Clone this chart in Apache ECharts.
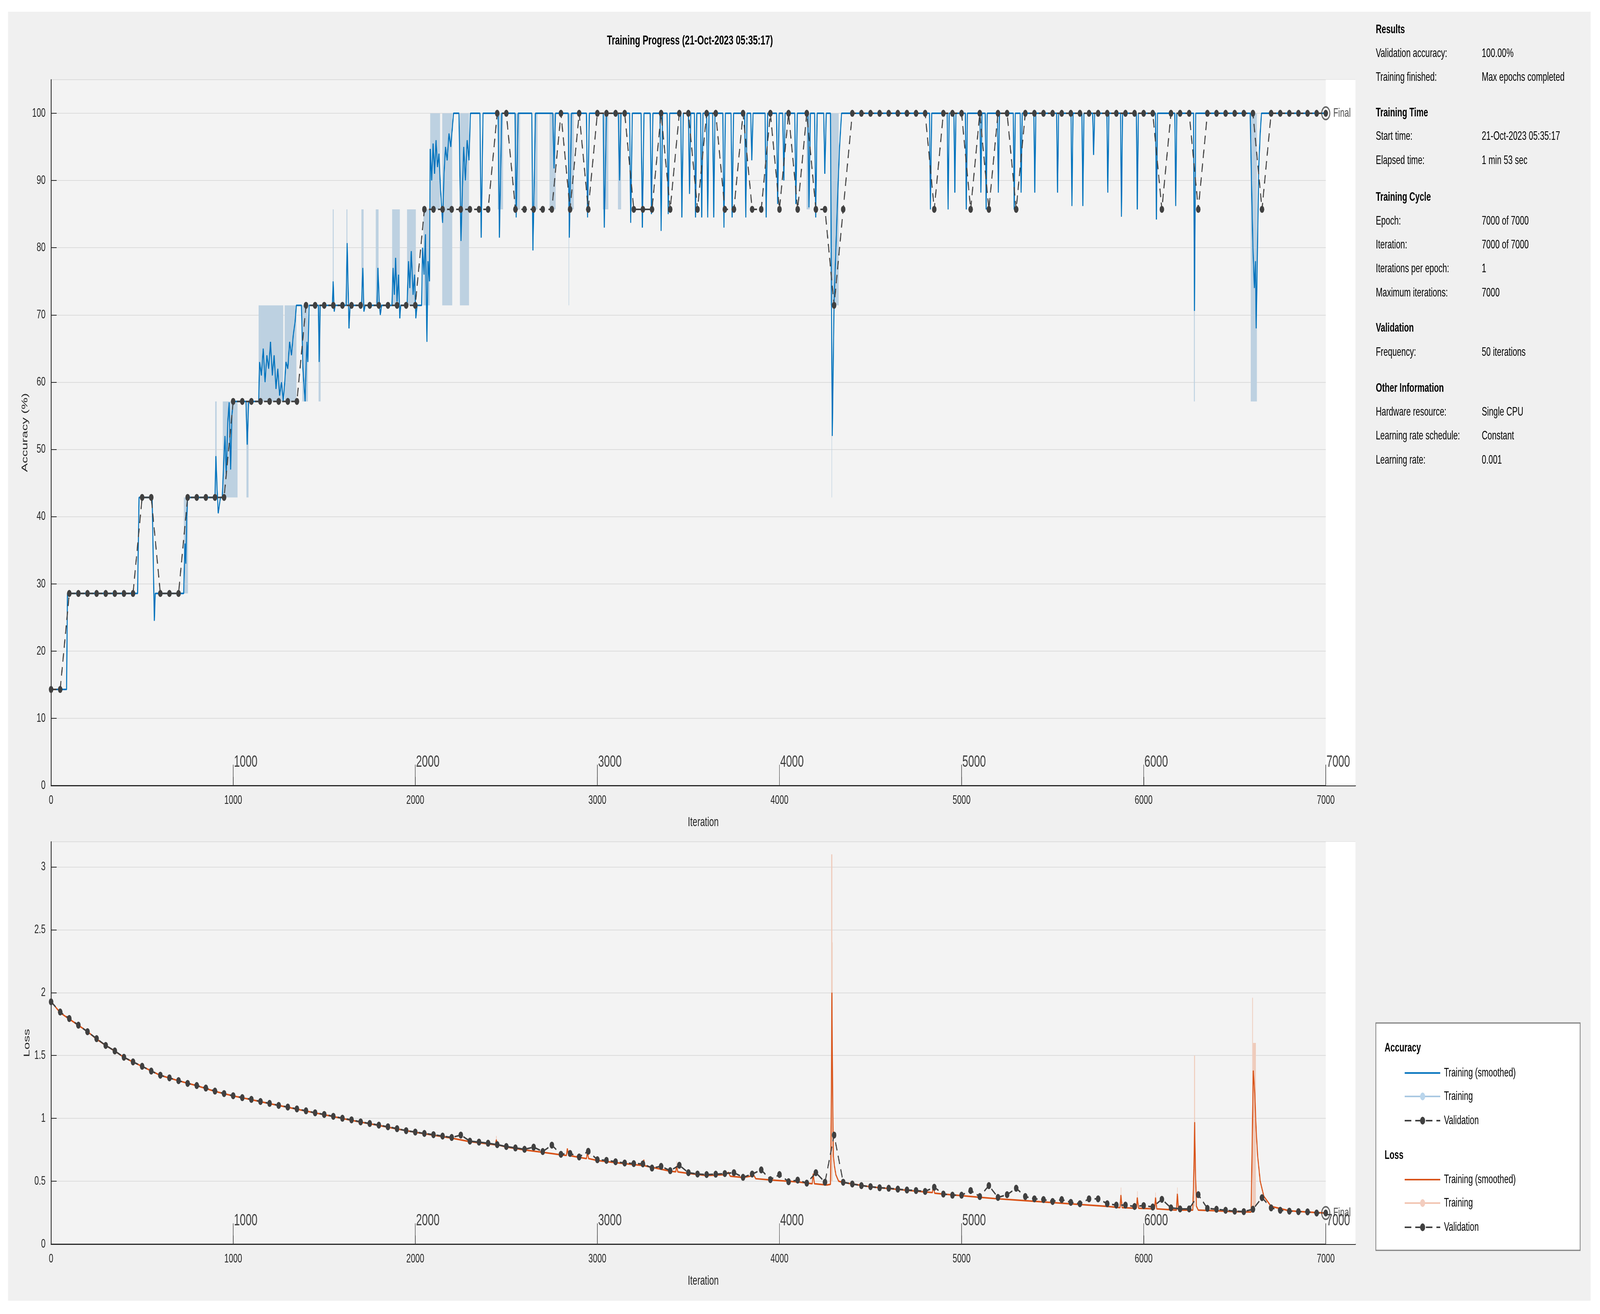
<!DOCTYPE html>
<html><head><meta charset="utf-8">
<script src="https://cdn.jsdelivr.net/npm/echarts@6/dist/echarts.min.js"></script>
<style>html,body{margin:0;padding:0;background:#fff;overflow:hidden}#c{width:6359px;height:3364px;transform-origin:0 0}</style>
</head><body><div id="c"></div>
<script>
const FONT = '"Liberation Sans", Arial, Helvetica, sans-serif';
const valFreq = 50;
const valAcc = [14.29,14.29,28.57,28.57,28.57,28.57,28.57,28.57,28.57,28.57,42.86,42.86,28.57,28.57,28.57,42.86,42.86,42.86,42.86,42.86,
57.14,57.14,57.14,57.14,57.14,57.14,57.14,57.14,71.43,71.43,71.43,71.43,71.43,71.43,71.43,71.43,71.43,71.43,71.43,71.43,71.43,
85.71,85.71,85.71,85.71,85.71,85.71,85.71,85.71,
100,100,85.71,85.71,85.71,85.71,85.71,100,85.71,100,85.71,100,100,100,100,85.71,85.71,85.71,100,85.71,100,100,85.71,100,100,85.71,85.71,100,85.71,85.71,100,85.71,100,85.71,100,85.71,85.71,71.43,85.71,
100,100,100,100,100,100,100,100,100,85.71,100,100,100,85.71,100,85.71,100,100,85.71,
100,100,100,100,100,100,100,100,100,100,100,100,100,100,100,85.71,100,100,100,85.71,100,100,100,100,100,100,85.71,100,100,100,100,100,100,100];
const valLoss = [1.927,1.846,1.794,1.741,1.689,1.634,1.580,1.536,1.486,1.449,1.414,1.376,1.343,1.322,1.300,1.278,1.261,1.241,1.217,1.197,
1.180,1.165,1.151,1.134,1.119,1.103,1.090,1.075,1.060,1.044,1.031,1.016,1.001,0.988,0.972,0.959,0.946,0.933,0.918,0.902,
0.891,0.880,0.870,0.859,0.848,0.867,0.819,0.811,0.802,0.791,0.776,0.765,0.754,0.771,0.736,0.787,0.714,0.721,0.693,0.738,
0.671,0.666,0.655,0.645,0.640,0.638,0.605,0.618,0.584,0.627,0.568,0.557,0.553,0.556,
0.561,0.568,0.531,0.557,0.590,0.513,0.553,0.496,0.509,0.485,0.568,0.492,0.867,0.492,0.478,0.465,0.457,0.448,0.444,0.437,
0.430,0.426,0.419,0.452,0.398,0.389,0.389,0.426,0.378,0.465,0.371,0.393,0.444,0.378,0.360,0.354,0.339,0.354,0.332,0.321,
0.360,0.360,0.321,0.310,0.310,0.299,0.306,0.295,0.356,0.288,0.280,0.280,0.393,0.284,0.277,0.269,0.262,0.258,0.277,0.369,
0.288,0.269,0.262,0.258,0.256,0.247,0.247];
const accSmooth = [[0,14.29],[85,14.29],[90,28.57],[475,28.57],[483,42.86],[555,42.86],[567,24.5],[572,28.57],[728,28.57],[735,36],[740,33],[745,40],[750,42.86],[900,42.86],[905,49],[912,44],[918,40.5],[930,42.86],[940,42.86],[948,48],[955,52],[962,46],[970,54],[978,57],[986,47],[993,55],[1000,57.14],[1070,57.14],[1077,50.7],[1085,57.14],[1140,57.14],[1145,63],[1155,61],[1165,65],[1175,60],[1185,64],[1195,62],[1205,66],[1215,61],[1225,64],[1235,59],[1245,62],[1255,58],[1265,60],[1275,57.2],[1283,60],[1290,63],[1300,62],[1310,66],[1320,64],[1330,67],[1340,69],[1347,71.43],[1375,71.43],[1383,62],[1395,57.14],[1400,62],[1405,66],[1410,63],[1417,71.43],[1468,71.43],[1472,63],[1478,71.43],[1545,71.43],[1549,75],[1555,70.5],[1560,71.43],[1620,71.43],[1626,80.7],[1632,73],[1636,68],[1642,71.43],[1705,71.43],[1712,77],[1718,70.5],[1725,71.43],[1790,71.43],[1795,77],[1802,72],[1808,70],[1815,71.43],[1872,71.43],[1878,77],[1885,73],[1892,78.5],[1900,72],[1908,76],[1915,69.5],[1920,71.43],[1955,71.43],[1963,78],[1970,74],[1978,79.5],[1988,73],[1996,76],[2003,69.5],[2010,71.43],[2035,71.43],[2040,80],[2048,76],[2056,82],[2064,66],[2070,78],[2078,75],[2082,94.7],[2090,90],[2098,95.5],[2106,91],[2114,96],[2122,92],[2130,94],[2138,89],[2150,83.7],[2158,91],[2166,95],[2175,93],[2185,97],[2195,95],[2210,100],[2240,100],[2251,81],[2258,88],[2266,95],[2275,90],[2285,96],[2295,93],[2303,100],
[2355,100],[2362,81.5],[2372,100],[2455,100],[2462,81.5],[2475,100],[2548,100],[2554,84.5],[2565,100],[2640,100],[2646,79.6],[2660,100],[2755,100],[2762,91.8],[2770,100],[2840,100],[2846,81.5],[2858,100],[2940,100],[2946,84.5],[2956,100],[3032,100],[3038,83],[3050,100],[3115,100],[3122,90],[3130,100],[3177,100],[3183,83.7],[3192,100],[3240,100],[3247,83],[3256,100],[3290,100],[3297,85],[3305,100],[3344,100],[3350,82.5],[3358,100],[3383,100],[3389,85],[3397,100],[3458,100],[3464,84.5],[3472,100],[3500,100],[3506,88],[3513,100],[3533,100],[3539,84.5],[3546,100],[3567,100],[3573,84.5],[3580,100],[3600,100],[3606,84.5],[3613,100],[3633,100],[3639,84.5],[3646,100],[3689,100],[3695,83],[3703,100],[3734,100],[3740,84.5],[3748,100],[3809,100],[3815,84.5],[3822,100],[3842,100],[3848,93],[3855,100],[3921,100],[3927,84.5],[3935,100],[3984,100],[3990,86.5],[3998,100],[4018,100],[4024,90],[4031,100],[4084,100],[4090,86.5],[4098,100],[4156,100],[4162,86],[4170,100],[4193,100],[4199,84.5],[4207,100],[4243,100],[4249,91],[4257,100],[4280,100],[4285,75],[4290,52],[4295,62],[4300,72],[4310,80],[4320,88],[4330,95],[4341,100],
[4824,100],[4829,85.7],[4836,100],[4921,100],[4926,85.7],[4932,100],[4958,100],[4963,88.2],[4969,100],[5021,100],[5026,85.7],[5032,100],[5101,100],[5106,88.2],[5112,100],[5130,100],[5135,85.7],[5141,100],[5197,100],[5202,88.2],[5208,100],[5284,100],[5289,85.7],[5295,100],[5322,100],[5327,88.2],[5333,100],[5397,100],[5402,88.2],[5408,100],[5522,100],[5527,88.2],[5533,100],[5601,100],[5606,86.2],[5612,100],[5661,100],[5666,86.2],[5672,100],[5720,100],[5725,93.8],[5731,100],[5798,100],[5803,88.2],[5809,100],[5873,100],[5878,84.6],[5884,100],[5960,100],[5965,85.7],[5971,100],[6065,100],[6070,84.2],[6076,100],[6171,100],[6176,86.2],[6182,100],[6274,100],[6279,70.6],[6286,100],[6585,100],[6592,90],[6600,80],[6608,74],[6614,78],[6618,68],[6625,80],[6632,92],[6640,97],[6647,100],[7000,100]];
const accRawBands = [[729,752,28.57,42.86],[901,909,42.86,57.14],[943,1024,42.86,57.14],[1073,1084,42.86,57.14],[1140,1275,57.14,71.43],[1283,1347,57.14,71.43],[1380,1410,57.14,71.43],[1469,1480,57.14,71.43],[1547,1552,71.43,85.71],[1622,1627,71.43,85.71],[1704,1716,71.43,85.71],[1783,1798,71.43,85.71],[1873,1915,71.43,85.71],[1955,2003,71.43,85.71],[2045,2080,71.43,85.71],[2082,2136,85.71,100],[2148,2203,71.43,100],[2245,2295,71.43,100],[2453,2482,85.71,100],[2545,2575,85.71,100],[2654,2671,85.71,100],[2737,2771,85.71,100],[2838,2871,85.71,100],[2842,2845,71.43,85.71],[3030,3060,85.71,100],[3113,3130,85.71,100],[4149,4166,85.71,100],[4280,4325,71.43,100],[4286,4289,42.86,71.43],[6276,6281,57.14,85.71],[6588,6622,57.14,100]];
const lossSmooth = [[0,1.93],[50,1.84],[100,1.79],[150,1.74],[200,1.69],[250,1.63],[300,1.58],[350,1.535],[400,1.485],[450,1.448],[500,1.413],[600,1.342],[700,1.299],[800,1.26],[900,1.215],[1000,1.178],[1100,1.149],[1200,1.117],[1300,1.088],[1400,1.058],[1500,1.029],[1600,0.999],[1700,0.97],[1800,0.944],[1900,0.916],[2000,0.889],[2100,0.866],[2200,0.843],[2300,0.815],[2400,0.797],[2440,0.79],[2445,0.83],[2452,0.79],[2500,0.772],[2600,0.749],[2700,0.73],[2800,0.71],[2830,0.705],[2835,0.76],[2842,0.705],[2900,0.69],[2940,0.68],[2945,0.73],[2952,0.68],[3000,0.665],[3100,0.648],[3200,0.632],[3250,0.625],[3255,0.67],[3262,0.622],[3400,0.58],[3430,0.575],[3435,0.62],[3442,0.574],[3500,0.562],[3600,0.545],[3700,0.552],[3720,0.57],[3730,0.54],[3800,0.53],[3860,0.545],[3870,0.52],[3950,0.51],[4000,0.505],[4100,0.495],[4180,0.48],[4185,0.56],[4192,0.48],[4260,0.47],[4280,0.475],[4284,1.0],[4288,2.0],[4292,1.2],[4296,0.7],[4302,0.62],[4310,0.55],[4325,0.5],[4350,0.49],[4500,0.455],[4700,0.428],[4800,0.415],[4840,0.41],[4845,0.47],[4852,0.405],[4900,0.398],[5000,0.385],[5100,0.372],[5200,0.36],[5300,0.35],[5400,0.34],[5500,0.33],[5600,0.32],[5700,0.31],[5800,0.3],[5870,0.29],[5875,0.39],[5882,0.29],[5960,0.285],[5965,0.37],[5972,0.285],[6060,0.28],[6065,0.37],[6072,0.28],[6180,0.27],[6185,0.4],[6192,0.27],[6270,0.27],[6276,0.6],[6280,0.97],[6284,0.6],[6290,0.3],[6300,0.27],[6400,0.265],[6500,0.258],[6590,0.255],[6596,0.8],[6602,1.38],[6610,1.2],[6618,0.9],[6626,0.7],[6640,0.5],[6660,0.38],[6700,0.3],[6800,0.265],[6900,0.255],[7000,0.247]];
const lossRawBands = [[4284,4290,0.5,3.1],[4288,4292,0.5,2.4],[6277,6282,0.3,1.5],[6596,6600,0.3,1.96],[6600,6616,0.3,1.6],[2444,2447,0.78,0.86],[3434,3437,0.57,0.66],[5874,5877,0.29,0.45],[5964,5967,0.29,0.42],[6064,6067,0.28,0.41],[6184,6187,0.27,0.45]];
const epochTicks = [1000,2000,3000,4000,5000,6000,7000];
const infoPanel = [
 ['h','Results'],['Validation accuracy:','100.00%'],['Training finished:','Max epochs completed'],
 ['h','Training Time'],['Start time:','21-Oct-2023 05:35:17'],['Elapsed time:','1 min 53 sec'],
 ['h','Training Cycle'],['Epoch:','7000 of 7000'],['Iteration:','7000 of 7000'],['Iterations per epoch:','1'],['Maximum iterations:','7000'],
 ['h','Validation'],['Frequency:','50 iterations'],
 ['h','Other Information'],['Hardware resource:','Single CPU'],['Learning rate schedule:','Constant'],['Learning rate:','0.001']];
const infoY = [76,137,198,289,349,411,505,566,627,688,750,840,902,994,1055,1116,1178];

const valAccPts = valAcc.map((v,i)=>[i*valFreq,v]);
const valLossPts = valLoss.map((v,i)=>[i*valFreq,v]);

const el = document.getElementById('c');
const sx = Math.min(1, (window.innerWidth||6359)/6359), sy = Math.min(1, (window.innerHeight||3364)/3364);
if (sx < 1 || sy < 1) el.style.transform = 'scale(' + sx + ',' + sy + ')';

function bandRender(color){
  return function(params, api){
    const p0 = api.coord([api.value(0), api.value(3)]);
    const p1 = api.coord([api.value(1), api.value(2)]);
    return {type:'rect', shape:{x:p0[0], y:p0[1], width:Math.max(p1[0]-p0[0],2), height:p1[1]-p0[1]}, style:{fill:color}};
  };
}
function epochRender(top){
  return function(params, api){
    const b = api.coord([api.value(0), 0]);
    const t = api.coord([api.value(0), top]);
    return {type:'group', children:[
      {type:'line', shape:{x1:b[0],y1:b[1],x2:t[0],y2:t[1]}, style:{stroke:'#404040', lineWidth:2}},
      {type:'text', x:t[0]+3, y:t[1]-6, style:{text:String(api.value(0)), fill:'#404040', font:'42px '+FONT, textVerticalAlign:'middle'}}
    ]};
  };
}
const axisCommon = {
  axisLine:{show:true, onZero:false, lineStyle:{color:'#262626', width:3}},
  axisTick:{show:true, inside:true, length:22, lineStyle:{color:'#262626', width:2}},
  axisLabel:{color:'#262626', fontSize:32, fontFamily:FONT, showMaxLabel:false, margin:22, formatter:v=>String(v)},
  splitLine:{show:true, lineStyle:{color:'#dcdcdc', width:2}}
};
const xMax = 7163;
const nameStyle = {fontSize:34, fontFamily:FONT, color:'#262626'};
const option = {
  animation:false,
  backgroundColor:'#ffffff',
  title:{text:'Training Progress (21-Oct-2023 05:35:17)', left:2737, top:100, textAlign:'center', textVerticalAlign:'middle',
    textStyle:{fontSize:34, fontWeight:'bold', fontFamily:FONT, color:'#000'}},
  grid:[
    {left:203, top:204, width:5184, height:1807, show:true, backgroundColor:'#f3f3f3', borderWidth:0},
    {left:203, top:2155, width:5184, height:1030, show:true, backgroundColor:'#f3f3f3', borderWidth:0}
  ],
  xAxis:[
    Object.assign({type:'value', gridIndex:0, min:0, max:xMax, interval:1000, name:'Iteration', nameLocation:'middle', nameGap:78, nameTextStyle:nameStyle}, axisCommon, {splitLine:{show:false}}),
    Object.assign({type:'value', gridIndex:1, min:0, max:xMax, interval:1000, name:'Iteration', nameLocation:'middle', nameGap:78, nameTextStyle:nameStyle}, axisCommon, {splitLine:{show:false}})
  ],
  yAxis:[
    Object.assign({type:'value', gridIndex:0, min:0, max:105, interval:10, name:'Accuracy (%)', nameLocation:'middle', nameGap:78, nameRotate:90, nameTextStyle:nameStyle}, axisCommon),
    Object.assign({type:'value', gridIndex:1, min:0, max:3.2, interval:0.5, name:'Loss', nameLocation:'middle', nameGap:78, nameRotate:90, nameTextStyle:nameStyle}, axisCommon)
  ],
  series:[
    {type:'line', xAxisIndex:0, yAxisIndex:0, data:[], silent:true,
      markArea:{silent:true, itemStyle:{color:'#ffffff'}, data:[[{xAxis:7000},{xAxis:xMax}]]}},
    {type:'line', xAxisIndex:1, yAxisIndex:1, data:[], silent:true,
      markArea:{silent:true, itemStyle:{color:'#ffffff'}, data:[[{xAxis:7000},{xAxis:xMax}]]}},
    {type:'custom', name:'accRaw', xAxisIndex:0, yAxisIndex:0, data:accRawBands, renderItem:bandRender('#bdd1e1'), encode:{x:[0,1], y:[2,3]}, z:2},
    {type:'custom', name:'lossRaw', xAxisIndex:1, yAxisIndex:1, data:lossRawBands, renderItem:bandRender('#efcbbb'), encode:{x:[0,1], y:[2,3]}, z:2},
    {type:'custom', xAxisIndex:0, yAxisIndex:0, data:epochTicks.map(v=>[v]), renderItem:epochRender(3.1), encode:{x:0}, z:3},
    {type:'custom', xAxisIndex:1, yAxisIndex:1, data:epochTicks.map(v=>[v]), renderItem:epochRender(0.165), encode:{x:0}, z:3},
    {type:'line', name:'accSmooth', xAxisIndex:0, yAxisIndex:0, data:accSmooth, showSymbol:false, lineStyle:{color:'#0072BD', width:4}, z:4},
    {type:'line', name:'lossSmooth', xAxisIndex:1, yAxisIndex:1, data:lossSmooth, showSymbol:false, lineStyle:{color:'#D95319', width:4}, z:4},
    {type:'line', name:'valAcc', xAxisIndex:0, yAxisIndex:0, data:valAccPts, symbol:'circle', symbolSize:18, showAllSymbol:true,
      itemStyle:{color:'#404040'}, lineStyle:{color:'#404040', width:4, type:[22,14]}, z:5},
    {type:'line', name:'valLoss', xAxisIndex:1, yAxisIndex:1, data:valLossPts, symbol:'circle', symbolSize:18, showAllSymbol:true,
      itemStyle:{color:'#404040'}, lineStyle:{color:'#404040', width:4, type:[22,14]}, z:5},
    {type:'scatter', xAxisIndex:0, yAxisIndex:0, data:[valAccPts[valAccPts.length-1]], symbol:'circle', symbolSize:32,
      itemStyle:{color:'rgba(0,0,0,0)', borderColor:'#404040', borderWidth:4}, z:6,
      label:{show:true, position:'right', distance:12, formatter:'Final', fontSize:32, fontFamily:FONT, color:'#262626'}},
    {type:'scatter', xAxisIndex:1, yAxisIndex:1, data:[valLossPts[valLossPts.length-1]], symbol:'circle', symbolSize:32,
      itemStyle:{color:'rgba(0,0,0,0)', borderColor:'#404040', borderWidth:4}, z:6,
      label:{show:true, position:'right', distance:12, formatter:'Final', fontSize:32, fontFamily:FONT, color:'#262626'}}
  ],
  graphic:[]
};
const g = option.graphic;
g.push({type:'rect', z:-10, shape:{x:32,y:30,width:6290,height:3300}, style:{fill:'#f0f0f0'}});
infoPanel.forEach((r,i)=>{
  if(r[0]==='h'){
    g.push({type:'text', x:5468, y:infoY[i], style:{text:r[1], font:'bold 32px '+FONT, fill:'#000', textVerticalAlign:'middle'}});
  } else {
    g.push({type:'text', x:5468, y:infoY[i], style:{text:r[0], font:'32px '+FONT, fill:'#000', textVerticalAlign:'middle'}});
    g.push({type:'text', x:5889, y:infoY[i], style:{text:r[1], font:'32px '+FONT, fill:'#000', textVerticalAlign:'middle'}});
  }
});
g.push({type:'rect', shape:{x:5468,y:2619,width:812,height:582}, style:{fill:'#fff', stroke:'#808080', lineWidth:3}});
const legItems = [
 ['h','Accuracy',2683],['s','Training (smoothed)',2747,'#0072BD'],['r','Training',2807,'#a9c8e2'],['v','Validation',2869,'#404040'],
 ['h','Loss',2958],['s','Training (smoothed)',3020,'#D95319'],['r','Training',3080,'#f2c4b1'],['v','Validation',3142,'#404040']];
legItems.forEach(it=>{
  const y = it[2];
  if(it[0]==='h'){ g.push({type:'text', x:5503, y:y, style:{text:it[1], font:'bold 32px '+FONT, fill:'#000', textVerticalAlign:'middle'}}); return; }
  if(it[0]==='v'){
    g.push({type:'line', shape:{x1:5583,y1:y,x2:5724,y2:y}, style:{stroke:it[3], lineWidth:4, lineDash:[26,16]}});
  } else {
    g.push({type:'line', shape:{x1:5583,y1:y,x2:5724,y2:y}, style:{stroke:it[3], lineWidth:4}});
  }
  if(it[0]!=='s') g.push({type:'circle', shape:{cx:5654,cy:y,r:10}, style:{fill: it[0]==='r' ? (it[3]==='#a9c8e2'?'#b9d5ec':'#f3cdbf') : '#404040'}});
  g.push({type:'text', x:5739, y:y, style:{text:it[1], font:'32px '+FONT, fill:'#000', textVerticalAlign:'middle'}});
});
const chart = echarts.init(el, null, {width:6359, height:3364});
chart.setOption(option);
</script></body></html>
